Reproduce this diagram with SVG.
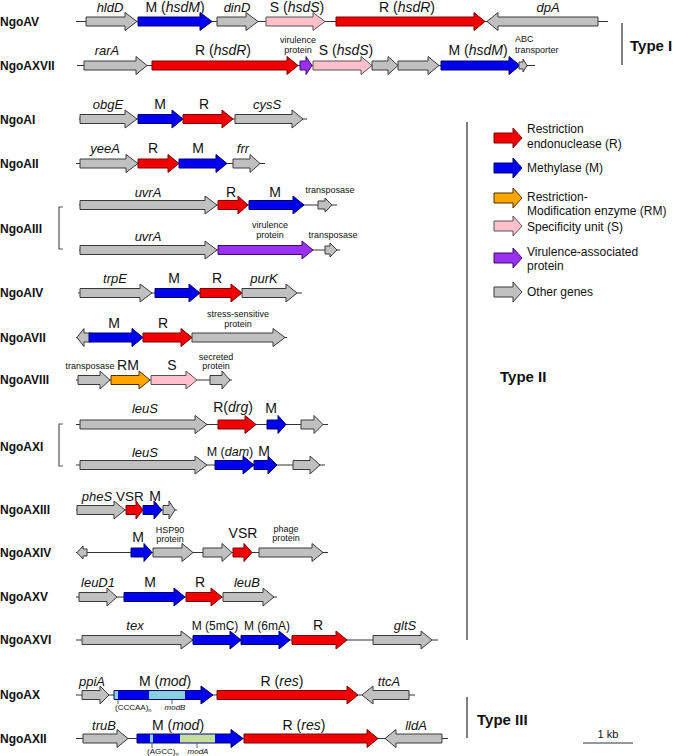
<svg xmlns="http://www.w3.org/2000/svg" width="675" height="756" viewBox="0 0 675 756">
<style>
text{font-family:"Liberation Sans",Arial,sans-serif;fill:#111}
.rl{font-weight:bold;font-size:12px}
.gn{font-size:13px;font-style:italic;text-anchor:middle}
.ll{font-size:14px;text-anchor:middle}
.sm{font-size:9px;text-anchor:middle}
.lg{font-size:12px}
.ty{font-weight:bold;font-size:15px}
.i{font-style:italic}
.bb{stroke:#333;stroke-width:1;fill:none}
.g{fill:#c0c0c0;stroke:#3a3a3a;stroke-width:1}
.r{fill:#f00000;stroke:#7a0000;stroke-width:1}
.b{fill:#0000ee;stroke:#00006a;stroke-width:1}
.p{fill:#ffc0cb;stroke:#555;stroke-width:1}
.o{fill:#ffa500;stroke:#4a3000;stroke-width:1}
.v{fill:#9a30f0;stroke:#3a0a6a;stroke-width:1}
.lb{fill:#88cfe0}
.lgr{fill:#c4de9c}
.vl{stroke:#555;stroke-width:1.5;fill:none}
.tk{stroke:#333;stroke-width:0.8}
</style>

<g id="connectors">
<path class="bb" d="M76,21.5H608"/>
<path class="bb" d="M77,65.5H535"/>
<path class="bb" d="M79,119H307"/>
<path class="bb" d="M76,163.5H265"/>
<path class="bb" d="M79,205H337"/>
<path class="bb" d="M79,250H340"/>
<path class="bb" d="M78,293H302"/>
<path class="bb" d="M76,337.5H287"/>
<path class="bb" d="M76,380H232"/>
<path class="bb" d="M76,424.5H328"/>
<path class="bb" d="M76,465H325"/>
<path class="bb" d="M76,510H177"/>
<path class="bb" d="M76,552.5H328"/>
<path class="bb" d="M76,597H277"/>
<path class="bb" d="M76,640H438"/>
<path class="bb" d="M76,695H415"/>
<path class="bb" d="M76,738.5H448"/>
</g>

<g id="NgoAV">
<text class="rl" x="0" y="26">NgoAV</text>
<path class="g" d="M86,17H125V12.5L137,21.5L125,30.5V26H86Z"/>
<path class="b" d="M138,17H200V12.5L212,21.5L200,30.5V26H138Z"/>
<path class="g" d="M217,17H246V12.5L258,21.5L246,30.5V26H217Z"/>
<path class="p" d="M266,17H313V12.5L325,21.5L313,30.5V26H266Z"/>
<path class="r" d="M336,17H474V12.5L485,21.5L474,30.5V26H336Z"/>
<path class="g" d="M598,17H498V12.5L487,21.5L498,30.5V26H598Z"/>
<text class="gn" x="110" y="11.5">hldD</text>
<text class="ll" x="175" y="11.5">M (<tspan class="i">hsdM</tspan>)</text>
<text class="gn" x="237" y="11.5">dinD</text>
<text class="ll" x="297" y="11.5">S (<tspan class="i">hsdS</tspan>)</text>
<text class="ll" x="407" y="11.5">R (<tspan class="i">hsdR</tspan>)</text>
<text class="gn" x="548" y="11.5">dpA</text>
</g>

<g id="NgoAXVII">
<text class="rl" x="0" y="70">NgoAXVII</text>
<path class="g" d="M84,61H136V56.5L147,65.5L136,74.5V70H84Z"/>
<path class="r" d="M152,61H287V56.5L298,65.5L287,74.5V70H152Z"/>
<path class="v" d="M300,61H306V56.5L312,65.5L306,74.5V70H300Z"/>
<path class="p" d="M313,61H361V56.5L372,65.5L361,74.5V70H313Z"/>
<path class="g" d="M372,61H388V56.5L398,65.5L388,74.5V70H372Z"/>
<path class="g" d="M398,61H428V56.5L439,65.5L428,74.5V70H398Z"/>
<path class="b" d="M441,61H509V56.5L520,65.5L509,74.5V70H441Z"/>
<path class="g" d="M519,62H523V59L527,65.5L523,72V69H519Z"/>
<text class="gn" x="107" y="55">rarA</text>
<text class="ll" x="223" y="55">R (<tspan class="i">hsdR</tspan>)</text>
<text class="sm" x="298" y="43">virulence</text>
<text class="sm" x="298" y="53">protein</text>
<text class="ll" x="346" y="55">S (<tspan class="i">hsdS</tspan>)</text>
<text class="ll" x="478" y="55">M (<tspan class="i">hsdM</tspan>)</text>
<text class="sm" x="515" y="42" style="text-anchor:start">ABC</text>
<text class="sm" x="515" y="53" style="text-anchor:start">transporter</text>
</g>

<g id="TypeI">
<path class="vl" d="M622,23V65"/>
<text class="ty" x="630" y="51">Type I</text>
</g>

<g id="NgoAI">
<text class="rl" x="0" y="124">NgoAI</text>
<path class="g" d="M80,114.5H125V110L137,119L125,128V123.5H80Z"/>
<path class="b" d="M138,114.5H172V110L183,119L172,128V123.5H138Z"/>
<path class="r" d="M183,114.5H222V110L233,119L222,128V123.5H183Z"/>
<path class="g" d="M235,114.5H292V110L303,119L292,128V123.5H235Z"/>
<text class="gn" x="108" y="109">obgE</text>
<text class="ll" x="160" y="109">M</text>
<text class="ll" x="204" y="109">R</text>
<text class="gn" x="267" y="109">cysS</text>
</g>

<g id="NgoAII">
<text class="rl" x="0" y="168">NgoAII</text>
<path class="g" d="M80,159H126V154.5L138,163.5L126,172.5V168H80Z"/>
<path class="r" d="M138,159H168V154.5L179,163.5L168,172.5V168H138Z"/>
<path class="b" d="M179,159H216V154.5L227,163.5L216,172.5V168H179Z"/>
<path class="g" d="M233,159H250V154.5L260,163.5L250,172.5V168H233Z"/>
<text class="gn" x="105" y="153">yeeA</text>
<text class="ll" x="153" y="153">R</text>
<text class="ll" x="198" y="153">M</text>
<text class="gn" x="243" y="153">frr</text>
</g>

<g id="NgoAIII">
<text class="rl" x="0" y="233">NgoAIII</text>
<path class="vl" d="M63,207H59V249H63" style="stroke-width:1.2"/>
<path class="g" d="M80,200.5H205V196L217,205L205,214V209.5H80Z"/>
<path class="r" d="M218,200.5H238V196L248,205L238,214V209.5H218Z"/>
<path class="b" d="M249,200.5H293V196L304,205L293,214V209.5H249Z"/>
<path class="g" d="M318,201H325V198L332,205L325,212V209H318Z"/>
<text class="gn" x="148" y="197">uvrA</text>
<text class="ll" x="231" y="197">R</text>
<text class="ll" x="275" y="197">M</text>
<text class="sm" x="330" y="193">transposase</text>
<path class="g" d="M80,245.5H205V241L217,250L205,259V254.5H80Z"/>
<path class="v" d="M218,245.5H302V241L313,250L302,259V254.5H218Z"/>
<path class="g" d="M325,246H330V243L337,250L330,257V254H325Z"/>
<text class="gn" x="148" y="241">uvrA</text>
<text class="sm" x="270" y="228">virulence</text>
<text class="sm" x="270" y="238">protein</text>
<text class="sm" x="333" y="238">transposase</text>
</g>

<g id="NgoAIV">
<text class="rl" x="0" y="297">NgoAIV</text>
<path class="g" d="M80,288.5H140V284L152,293L140,302V297.5H80Z"/>
<path class="b" d="M155,288.5H189V284L200,293L189,302V297.5H155Z"/>
<path class="r" d="M200,288.5H231V284L242,293L231,302V297.5H200Z"/>
<path class="g" d="M242,288.5H286V284L297,293L286,302V297.5H242Z"/>
<text class="gn" x="115" y="283">trpE</text>
<text class="ll" x="174" y="283">M</text>
<text class="ll" x="217" y="283">R</text>
<text class="gn" x="264" y="283">purK</text>
</g>

<g id="NgoAVII">
<text class="rl" x="0" y="342">NgoAVII</text>
<path class="g" d="M91,333H84V328.5L77,337.5L84,346.5V342H91Z"/>
<path class="b" d="M89,333H132V328.5L143,337.5L132,346.5V342H89Z"/>
<path class="r" d="M143,333H181V328.5L192,337.5L181,346.5V342H143Z"/>
<path class="g" d="M192,333H273V328.5L285,337.5L273,346.5V342H192Z"/>
<text class="ll" x="114" y="328">M</text>
<text class="ll" x="163" y="328">R</text>
<text class="sm" x="238" y="317">stress-sensitive</text>
<text class="sm" x="238" y="327">protein</text>
</g>

<g id="NgoAVIII">
<text class="rl" x="0" y="384">NgoAVIII</text>
<path class="g" d="M78,375.5H100V371L110,380L100,389V384.5H78Z"/>
<path class="o" d="M111,375.5H139V371L150,380L139,389V384.5H111Z"/>
<path class="p" d="M151,375.5H186V371L197,380L186,389V384.5H151Z"/>
<path class="g" d="M210,375.5H222V371L230,380L222,389V384.5H210Z"/>
<text class="sm" x="90" y="369">transposase</text>
<text class="ll" x="128" y="370">RM</text>
<text class="ll" x="172" y="370">S</text>
<text class="sm" x="216" y="360">secreted</text>
<text class="sm" x="216" y="369">protein</text>
</g>

<g id="NgoAXI">
<text class="rl" x="0" y="451">NgoAXI</text>
<path class="vl" d="M63,424H59V466H63" style="stroke-width:1.2"/>
<path class="g" d="M80,420H195V415.5L207,424.5L195,433.5V429H80Z"/>
<path class="r" d="M218,420H245V415.5L256,424.5L245,433.5V429H218Z"/>
<path class="b" d="M267,420H278V415.5L286,424.5L278,433.5V429H267Z"/>
<path class="g" d="M301,420H314V415.5L323,424.5L314,433.5V429H301Z"/>
<text class="gn" x="145" y="413">leuS</text>
<text class="ll" x="233" y="412">R(<tspan class="i">drg</tspan>)</text>
<text class="ll" x="271" y="413">M</text>
<path class="g" d="M80,460.5H195V456L207,465L195,474V469.5H80Z"/>
<path class="b" d="M215,460.5H243V456L254,465L243,474V469.5H215Z"/>
<path class="b" d="M254,460.5H268V456L277,465L268,474V469.5H254Z"/>
<path class="g" d="M293,460.5H310V456L320,465L310,474V469.5H293Z"/>
<text class="gn" x="145" y="457">leuS</text>
<text class="ll" x="230" y="456" style="font-size:12.5px">M (<tspan class="i">dam</tspan>)</text>
<text class="ll" x="264" y="456">M</text>
</g>

<g id="NgoAXIII">
<text class="rl" x="0" y="514">NgoAXIII</text>
<path class="g" d="M77,505.5H114V501L125,510L114,519V514.5H77Z"/>
<path class="r" d="M126,505.5H136V501L143,510L136,519V514.5H126Z"/>
<path class="b" d="M143,505.5H154V501L162,510L154,519V514.5H143Z"/>
<path class="g" d="M163,505.5H169V501L175,510L169,519V514.5H163Z"/>
<text class="gn" x="97" y="501">pheS</text>
<text class="ll" x="130" y="501" style="font-size:13.5px">VSR</text>
<text class="ll" x="155" y="501">M</text>
</g>

<g id="NgoAXIV">
<text class="rl" x="0" y="557">NgoAXIV</text>
<path class="g" d="M87,549H83V546L77,552.5L83,559V556H87Z"/>
<path class="b" d="M131,548H144V543.5L152,552.5L144,561.5V557H131Z"/>
<path class="g" d="M153,548H182V543.5L193,552.5L182,561.5V557H153Z"/>
<path class="g" d="M203,548H222V543.5L232,552.5L222,561.5V557H203Z"/>
<path class="r" d="M233,548H244V543.5L252,552.5L244,561.5V557H233Z"/>
<path class="g" d="M259,548H312V543.5L323,552.5L312,561.5V557H259Z"/>
<text class="ll" x="138" y="542">M</text>
<text class="sm" x="170" y="533">HSP90</text>
<text class="sm" x="170" y="542">protein</text>
<text class="ll" x="243" y="538">VSR</text>
<text class="sm" x="286" y="532">phage</text>
<text class="sm" x="286" y="541">protein</text>
</g>

<g id="NgoAXV">
<text class="rl" x="0" y="601">NgoAXV</text>
<path class="g" d="M79,592.5H107V588L117,597L107,606V601.5H79Z"/>
<path class="b" d="M124,592.5H174V588L185,597L174,606V601.5H124Z"/>
<path class="r" d="M186,592.5H211V588L222,597L211,606V601.5H186Z"/>
<path class="g" d="M223,592.5H263V588L274,597L263,606V601.5H223Z"/>
<text class="gn" x="98" y="587">leuD1</text>
<text class="ll" x="150" y="587">M</text>
<text class="ll" x="200" y="587">R</text>
<text class="gn" x="247" y="587">leuB</text>
</g>

<g id="NgoAXVI">
<text class="rl" x="0" y="644">NgoAXVI</text>
<path class="g" d="M82,635.5H181V631L193,640L181,649V644.5H82Z"/>
<path class="b" d="M193,635.5H230V631L241,640L230,649V644.5H193Z"/>
<path class="b" d="M241,635.5H279V631L290,640L279,649V644.5H241Z"/>
<path class="r" d="M292,635.5H336V631L347,640L336,649V644.5H292Z"/>
<path class="g" d="M373,635.5H421V631L432,640L421,649V644.5H373Z"/>
<text class="gn" x="135" y="630">tex</text>
<text class="ll" x="215" y="630" style="font-size:12px">M (5mC)</text>
<text class="ll" x="267" y="630" style="font-size:12px">M (6mA)</text>
<text class="ll" x="318" y="630">R</text>
<text class="gn" x="405" y="630">gltS</text>
</g>

<g id="TypeII">
<path class="vl" d="M467,122V640"/>
<text class="ty" x="500" y="382">Type II</text>
</g>

<g id="NgoAX">
<text class="rl" x="0" y="699">NgoAX</text>
<path class="g" d="M82,690.5H100V686L109,695L100,704V699.5H82Z"/>
<path class="b" d="M114,690.5H201V686L213,695L201,704V699.5H114Z"/>
<rect class="lb" x="114.5" y="691" width="3.5" height="8"/>
<rect class="lb" x="149" y="691" width="36" height="8"/>
<path class="r" d="M217,690.5H347V686L358,695L347,704V699.5H217Z"/>
<path class="g" d="M409,690.5H373V686L362,695L373,704V699.5H409Z"/>
<text class="gn" x="92" y="686">ppiA</text>
<text class="ll" x="165" y="686">M (<tspan class="i">mod</tspan>)</text>
<text class="ll" x="282" y="686">R (<tspan class="i">res</tspan>)</text>
<text class="gn" x="389" y="686">ttcA</text>
<path class="tk" d="M118,700V704M172,700V704"/>
<text x="115" y="710" style="font-size:8px">(CCCAA)<tspan font-size="5.5" dy="2">n</tspan></text>
<text x="175" y="710" style="font-size:8px;font-style:italic;text-anchor:middle">modB</text>
</g>

<g id="NgoAXII">
<text class="rl" x="0" y="743">NgoAXII</text>
<path class="g" d="M83,734H117V729.5L128,738.5L117,747.5V743H83Z"/>
<path class="b" d="M137,734H231V729.5L243,738.5L231,747.5V743H137Z"/>
<rect class="lb" x="150" y="734.5" width="3" height="8"/>
<rect class="lgr" x="180" y="734.5" width="35" height="8"/>
<path class="r" d="M244,734H367V729.5L378,738.5L367,747.5V743H244Z"/>
<path class="g" d="M442,734H396V729.5L385,738.5L396,747.5V743H442Z"/>
<text class="gn" x="104" y="730">truB</text>
<text class="ll" x="178" y="730">M (<tspan class="i">mod</tspan>)</text>
<text class="ll" x="304" y="730">R (<tspan class="i">res</tspan>)</text>
<text class="gn" x="416" y="730">lldA</text>
<path class="tk" d="M152,743.5V748M197,743.5V748"/>
<text x="147" y="754" style="font-size:8px">(AGCC)<tspan font-size="5.5" dy="2">n</tspan></text>
<text x="198" y="754" style="font-size:8px;font-style:italic;text-anchor:middle">modA</text>
</g>

<g id="TypeIII">
<path class="vl" d="M467,697V738"/>
<text class="ty" x="477" y="725">Type III</text>
</g>

<g id="scale">
<path stroke="#333" stroke-width="1" d="M583,743H633"/>
<text x="608" y="738" style="font-size:11px;text-anchor:middle">1 kb</text>
</g>

<g id="legend">
<path class="r" d="M494,133H513V128L522,138L513,148V143H494Z"/>
<text class="lg" x="527" y="133">Restriction</text>
<text class="lg" x="527" y="148">endonuclease (R)</text>
<path class="b" d="M494,163H513V158L522,168L513,178V173H494Z"/>
<text class="lg" x="527" y="172">Methylase (M)</text>
<path class="o" d="M494,193H513V188L522,198L513,208V203H494Z"/>
<text class="lg" x="527" y="201">Restriction-</text>
<text class="lg" x="527" y="215">Modification enzyme (RM)</text>
<path class="p" d="M494,221H513V216L522,226L513,236V231H494Z"/>
<text class="lg" x="527" y="231">Specificity unit (S)</text>
<path class="v" d="M494,253H513V248L522,258L513,268V263H494Z"/>
<text class="lg" x="527" y="256">Virulence-associated</text>
<text class="lg" x="527" y="270">protein</text>
<path class="g" d="M494,287H513V282L522,292L513,302V297H494Z"/>
<text class="lg" x="527" y="296">Other genes</text>
</g>
</svg>
